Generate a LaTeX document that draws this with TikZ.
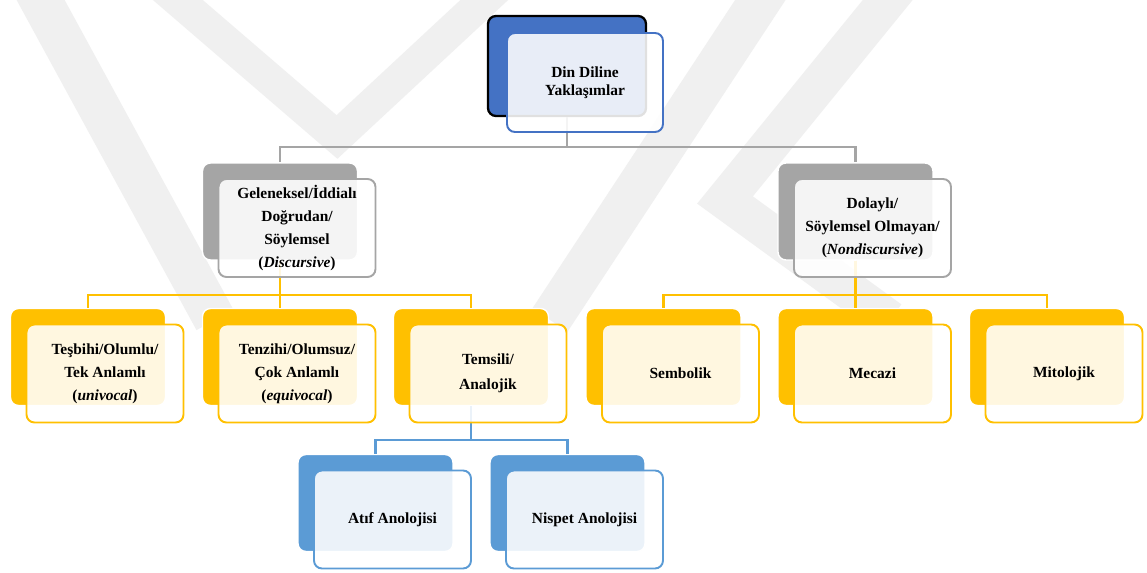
\documentclass[tikz,border=0pt]{standalone}
\usepackage{fontspec}
\setmainfont{Liberation Serif}
\definecolor{wmark}{HTML}{F0F0F0}
\definecolor{smgray}{HTML}{A5A5A5}
\definecolor{smgold}{HTML}{FFC000}
\definecolor{smblue}{HTML}{4472C4}
\definecolor{smsky}{HTML}{5B9BD5}
\tikzset{
  backbox/.style={rounded corners=4.5pt, minimum width=3.1cm, minimum height=1.94cm, draw=white, line width=0.8pt, inner sep=0pt},
  frontbox/.style={rounded corners=4.5pt, minimum width=3.14cm, minimum height=1.96cm, fill=white, fill opacity=0.88, text opacity=1, line width=1.1pt, align=center, inner sep=0pt, font=\bfseries\fontsize{8.8}{13}\selectfont},
  link/.style={line width=1.2pt},
  wm/.style={wmark, line join=miter},
}

\begin{document}
\begin{tikzpicture}[x=0.02cm,y=-0.02cm]
\fill[white] (0,0) rectangle (1147,573);
\useasboundingbox (0,0) rectangle (1147,573);
\begin{scope}
\clip (0,0) rectangle (1147,573);
\draw[wm,line width=24pt] (21,-36) -- (215,320);
\draw[wm,line width=18.5pt] (136,-36) -- (337,137) -- (523,-36);
\draw[wm,line width=24pt] (784,-36) -- (550,320);
\draw[wm,line width=22pt] (917,-36) -- (725,200) -- (890,320);
\end{scope}

\node[backbox,fill=smblue,draw=black,line width=1.3pt,minimum width=3.16cm,minimum height=2cm] (rootb) at (567,66) {};
\node[backbox,fill=smgray] (gelb) at (280,211.5) {};
\node[backbox,fill=smgray] (dolb) at (855.5,211.5) {};
\node[backbox,fill=smgold] (tesb) at (88,357) {};
\node[backbox,fill=smgold] (tenb) at (280,357) {};
\node[backbox,fill=smgold] (temb) at (471,357) {};
\node[backbox,fill=smgold] (semb) at (663.5,357) {};
\node[backbox,fill=smgold] (mecb) at (855.5,357) {};
\node[backbox,fill=smgold] (mitb) at (1047,357) {};
\node[backbox,fill=smsky] (atfb) at (375.5,503) {};
\node[backbox,fill=smsky] (nisb) at (567.5,503) {};

\draw[link,smgray] (rootb.south) -- ++(0,30) -| (gelb.north);
\draw[link,smgray] (rootb.south) -- ++(0,30) -| (dolb.north);
\foreach \n in {tesb,tenb,temb}
  \draw[link,smgold] (gelb.south) -- ++(0,34) -| (\n.north);
\foreach \n in {semb,mecb,mitb}
  \draw[link,smgold] (dolb.south) -- ++(0,34) -| (\n.north);
\foreach \n in {atfb,nisb}
  \draw[link,smsky] (temb.south) -- ++(0,33.5) -| (\n.north);

\node[frontbox,draw=smblue,minimum width=3.12cm,minimum height=1.98cm,font=\bfseries\fontsize{8.8}{10}\selectfont] (root) at ([shift={(18,16.5)}]rootb) {Din Diline\\Yaklaşımlar};
\node[frontbox,draw=smgray] (gel) at ([shift={(17,16.5)}]gelb) {Geleneksel/İddialı\\Doğrudan/\\Söylemsel\\(\textit{Discursive})};
\node[frontbox,draw=smgray] (dol) at ([shift={(17,16.5)}]dolb) {Dolaylı/\\Söylemsel Olmayan/\\(\textit{Nondiscursive})};
\node[frontbox,draw=smgold] (tes) at ([shift={(17,16.5)}]tesb) {Teşbihi/Olumlu/\\Tek Anlamlı\\(\textit{univocal})};
\node[frontbox,draw=smgold] (ten) at ([shift={(17,16.5)}]tenb) {Tenzihi/Olumsuz/\\Çok Anlamlı\\(\textit{equivocal})};
\node[frontbox,draw=smgold,font=\bfseries\fontsize{8.8}{14}\selectfont] (tem) at ([shift={(17,16.5)}]temb) {Temsili/\\Analojik};
\node[frontbox,draw=smgold] (sem) at ([shift={(17,16.5)}]semb) {Sembolik};
\node[frontbox,draw=smgold] (mec) at ([shift={(17,16.5)}]mecb) {Mecazi};
\node[frontbox,draw=smgold] (mit) at ([shift={(17,16.5)}]mitb) {Mitolojik};
\node[frontbox,draw=smsky] (atf) at ([shift={(17,16.5)}]atfb) {Atıf Anolojisi};
\node[frontbox,draw=smsky] (nis) at ([shift={(17,16.5)}]nisb) {Nispet Anolojisi};
\end{tikzpicture}
\end{document}
